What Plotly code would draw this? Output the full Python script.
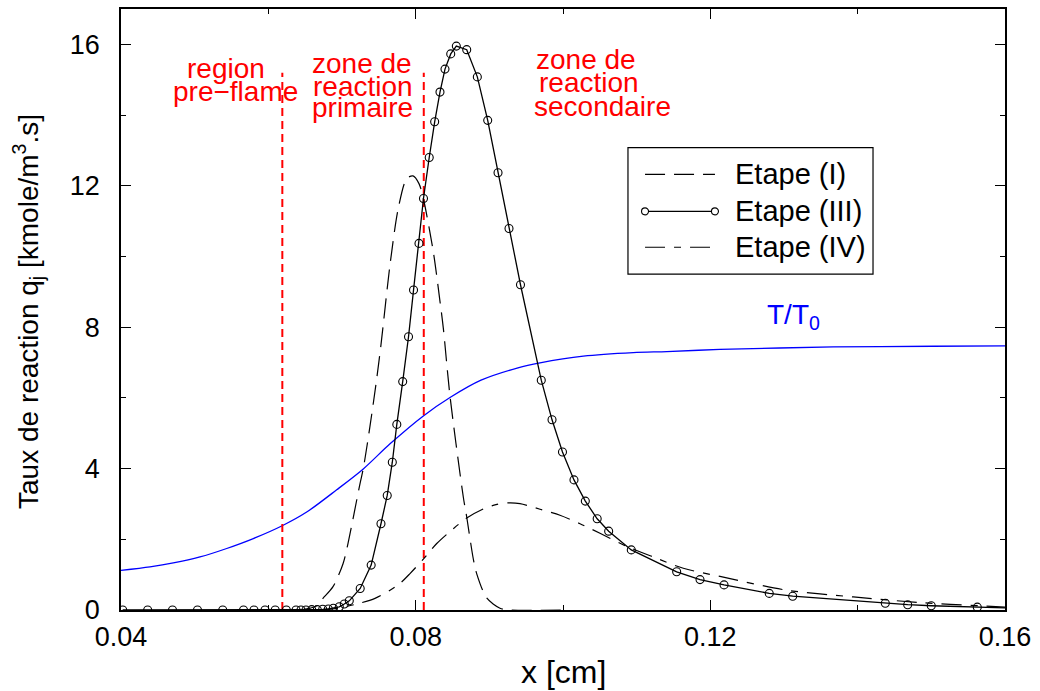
import plotly.graph_objects as go

# ---------------- data ----------------
x_ticks = [0.04, 0.08, 0.12, 0.16]
x_tick_labels = ["0.04", "0.08", "0.12", "0.16"]
y_ticks = [0, 4, 8, 12, 16]
y_tick_labels = ["0", "4", "8", "12", "16"]

series_names = ["Etape (I)", "Etape (III)", "Etape (IV)"]

# Etape (I) reaction rate
step1_x = [0.0600, 0.06430, 0.06647, 0.06742, 0.06878, 0.07014, 0.07081, 0.07244,
           0.07289, 0.07380, 0.07462, 0.07529, 0.07652, 0.07764, 0.07878, 0.07964,
           0.08045, 0.08104, 0.08239, 0.08330, 0.08375, 0.08466, 0.08647, 0.08693,
           0.08782, 0.08828, 0.08964, 0.09145, 0.09281, 0.1000]
step1_y = [0.0, 0.0, 0.11, 0.33, 0.66, 1.31, 1.88, 3.57,
           4.00, 5.20, 6.40, 7.50, 9.77, 11.36, 12.20, 12.28,
           12.06, 11.64, 10.14, 8.73, 7.98, 6.05, 3.19, 2.63,
           1.45, 1.03, 0.34, 0.05, 0.0, 0.0]

# Etape (III) reaction rate (sampled points shown with circles, last point = curve end)
step3_x = [0.04023, 0.04362, 0.04699, 0.05038, 0.05381, 0.05663, 0.05805, 0.05955,
           0.06093, 0.06244, 0.06376, 0.06443, 0.06511, 0.06589, 0.06665, 0.06738,
           0.06814, 0.06882, 0.06963, 0.07031, 0.07099, 0.07247, 0.07396, 0.07529,
           0.07614, 0.07683, 0.07744, 0.07824, 0.07903, 0.07971, 0.08045, 0.08106,
           0.08184, 0.08258, 0.08330, 0.08398, 0.08476, 0.08552, 0.08693, 0.08837,
           0.08978, 0.09118, 0.09267, 0.09423, 0.09705, 0.09851, 0.09993, 0.10149,
           0.10303, 0.10464, 0.10620, 0.10927, 0.11543, 0.11860, 0.12186, 0.12800,
           0.13118, 0.14375, 0.14679, 0.14999, 0.15624, 0.16000]
step3_y = [0.0, 0.0, 0.0, 0.0, 0.0, 0.0, 0.0, 0.0,
           0.0, 0.0, 0.0, 0.0, 0.0, 0.01, 0.01, 0.02,
           0.03, 0.05, 0.09, 0.17, 0.26, 0.61, 1.27, 2.44,
           3.24, 4.18, 5.25, 6.46, 7.73, 9.05, 10.37, 11.64,
           12.80, 13.81, 14.65, 15.30, 15.73, 15.95, 15.85, 15.08,
           13.85, 12.37, 10.79, 9.20, 6.50, 5.38, 4.47, 3.68,
           3.08, 2.58, 2.23, 1.70, 1.08, 0.86, 0.71, 0.47,
           0.39, 0.19, 0.15, 0.12, 0.08, 0.06]

# Etape (IV) reaction rate
step4_x = [0.06674, 0.06878, 0.07200, 0.07448, 0.07652, 0.07787, 0.07923, 0.08104,
           0.08286, 0.08511, 0.08693, 0.08918, 0.09090, 0.09253, 0.09416, 0.09688,
           0.09959, 0.10231, 0.10502, 0.10865, 0.11226, 0.11633, 0.12131, 0.13037,
           0.13941, 0.14846, 0.15751, 0.16000]
step4_y = [0.0, 0.03, 0.17, 0.33, 0.56, 0.75, 1.03, 1.44,
           1.88, 2.30, 2.60, 2.86, 2.98, 3.03, 3.01, 2.85,
           2.68, 2.44, 2.17, 1.80, 1.50, 1.18, 0.95, 0.56,
           0.37, 0.21, 0.11, 0.08]

# Reduced temperature T/T0
temp_x = [0.04000, 0.04394, 0.04710, 0.05072, 0.05435, 0.05796, 0.06195, 0.06521,
          0.06928, 0.07289, 0.07652, 0.08104, 0.08466, 0.08887, 0.09389, 0.09688,
          0.10276, 0.10954, 0.11408, 0.12131, 0.13669, 0.15027, 0.16000]
temp_y = [1.12, 1.22, 1.33, 1.50, 1.74, 2.02, 2.39, 2.77,
          3.40, 3.99, 4.70, 5.49, 6.01, 6.50, 6.85, 6.99,
          7.18, 7.28, 7.31, 7.37, 7.44, 7.46, 7.47]

# zone boundaries (vertical red dashed lines)
zone_bounds_x = [0.0619, 0.0811]
zone_bounds_top = 15.2

FONT = "Liberation Sans, Arial, Helvetica, sans-serif"

fig = go.Figure()

# temperature
fig.add_trace(go.Scatter(x=temp_x, y=temp_y, mode="lines",
                         line=dict(color="#0000ff", width=1.3, shape="spline", smoothing=0.8),
                         name="T/T0", showlegend=False))

# zone boundaries
for xb in zone_bounds_x:
    fig.add_trace(go.Scatter(x=[xb, xb], y=[0, zone_bounds_top], mode="lines",
                             line=dict(color="#ff0000", width=2, dash="8px,5px"),
                             showlegend=False, hoverinfo="skip"))

# Etape I
fig.add_trace(go.Scatter(x=step1_x, y=step1_y, mode="lines",
                         line=dict(color="black", width=1.2, dash="20px,9px",
                                   shape="spline", smoothing=0.8),
                         name=series_names[0], showlegend=False))
# Etape IV
fig.add_trace(go.Scatter(x=step4_x, y=step4_y, mode="lines",
                         line=dict(color="black", width=1.2, dash="20px,9px,7px,9px",
                                   shape="spline", smoothing=0.8),
                         name=series_names[2], showlegend=False))
# Etape III line + markers
fig.add_trace(go.Scatter(x=step3_x, y=step3_y, mode="lines",
                         line=dict(color="black", width=1.3),
                         name=series_names[1], showlegend=False))
fig.add_trace(go.Scatter(x=step3_x[:-1], y=step3_y[:-1], mode="markers",
                         marker=dict(symbol="circle-open", size=8, color="black",
                                     line=dict(width=1.1, color="black")),
                         name=series_names[1], showlegend=False))

# ---------------- annotations ----------------
red = "#ff0000"
ann = []
def add_text(txt, x, y, size, color, xanchor="center", xref="x", yref="y", angle=0):
    ann.append(dict(text=txt, x=x, y=y, xref=xref, yref=yref, showarrow=False,
                    xanchor=xanchor, yanchor="middle", textangle=angle,
                    font=dict(family=FONT, size=size, color=color)))

RS = 28
add_text("region", 0.05425, 15.32, RS, red)
add_text("pre\u2212flame", 0.05548, 14.68, RS, red)
add_text("zone de", 0.07271, 15.46, RS, red)
add_text("reaction", 0.07285, 14.82, RS, red)
add_text("primaire", 0.07285, 14.20, RS, red)
add_text("zone de", 0.09606, 15.58, RS, red, xanchor="left")
add_text("reaction", 0.09647, 14.93, RS, red, xanchor="left")
add_text("secondaire", 0.09579, 14.25, RS, red, xanchor="left")
add_text("T/T<sub>0</sub>", 0.12742, 8.30, 28, "#0000ff", xanchor="left")

# axis titles
add_text("x [cm]", 0.5, -0.1028, 32, "black", xref="paper", yref="paper")
add_text("Taux de reaction q<sub>j</sub> [kmole/m<sup>3</sup>.s]", -0.1052, 0.4959, 28,
         "black", xref="paper", yref="paper", angle=-90)

# ---------------- custom legend ----------------
shapes = []
lx0, lx1 = 0.5928, 0.6719
rows = [0.7247, 0.6633, 0.6036]
shapes.append(dict(type="rect", xref="paper", yref="paper", x0=0.5735, x1=0.8507,
                   y0=0.5589, y1=0.7695, line=dict(color="black", width=1.2),
                   fillcolor="white", layer="above"))
shapes.append(dict(type="line", xref="paper", yref="paper", x0=lx0, x1=lx1,
                   y0=rows[0], y1=rows[0], line=dict(color="black", width=1.2, dash="20px,9px"),
                   layer="above"))
shapes.append(dict(type="line", xref="paper", yref="paper", x0=lx0, x1=lx1,
                   y0=rows[1], y1=rows[1], line=dict(color="black", width=1.2), layer="above"))
for cx in (lx0, lx1):
    shapes.append(dict(type="circle", xref="paper", yref="paper", xsizemode="pixel",
                       ysizemode="pixel", xanchor=cx, yanchor=rows[1],
                       x0=-3.5, x1=3.5, y0=-3.5, y1=3.5,
                       line=dict(color="black", width=1.1), fillcolor="white", layer="above"))
shapes.append(dict(type="line", xref="paper", yref="paper", x0=lx0, x1=lx1,
                   y0=rows[2], y1=rows[2],
                   line=dict(color="black", width=1.2, dash="20px,9px,7px,9px"), layer="above"))
for name, ry in zip(series_names, rows):
    add_text(name, 0.6923, ry, 29, "black", xanchor="left", xref="paper", yref="paper")

axis_common = dict(showline=True, linecolor="black", linewidth=1.5, mirror="ticks",
                   ticks="inside", ticklen=10, tickwidth=1.2, tickcolor="black",
                   showgrid=False, zeroline=False,
                   tickfont=dict(family=FONT, size=27, color="black"))

fig.update_layout(
    width=1040, height=691,
    margin=dict(l=121, r=35, t=7, b=81),
    paper_bgcolor="white", plot_bgcolor="white",
    showlegend=False,
    xaxis=dict(range=[0.04, 0.16], tickvals=x_ticks, ticktext=x_tick_labels,
               minor=dict(dtick=0.02, tick0=0.04, ticks="inside", ticklen=5,
                          tickwidth=1.2, tickcolor="black"),
               ticklabelstandoff=2, **axis_common),
    yaxis=dict(range=[0, 17], tickvals=y_ticks, ticktext=y_tick_labels,
               minor=dict(dtick=2, tick0=0, ticks="inside", ticklen=5,
                          tickwidth=1.2, tickcolor="black"),
               ticklabelstandoff=14, **axis_common),
    annotations=ann,
    shapes=shapes,
)

fig.write_html("out.html")
